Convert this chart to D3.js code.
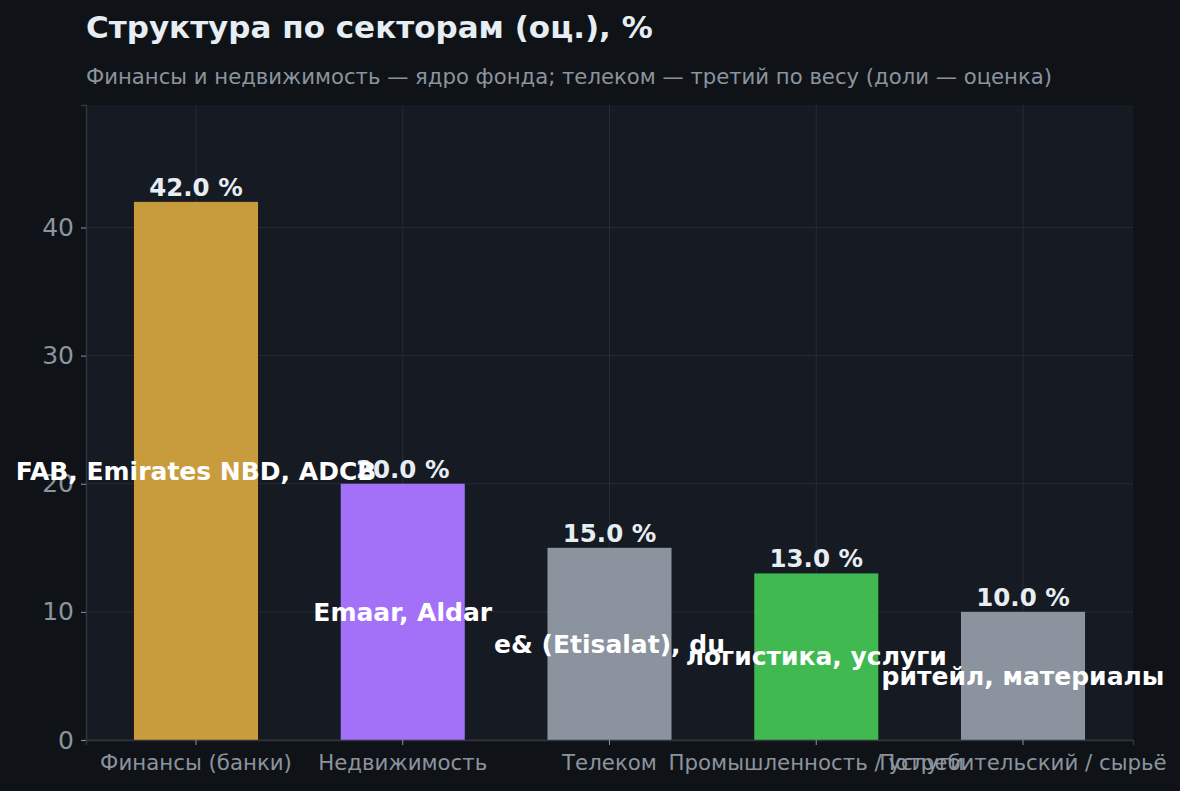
<!DOCTYPE html>
<html><head><meta charset="utf-8">
<script src="https://cdn.jsdelivr.net/npm/d3@7"></script>
<style>
html,body{margin:0;padding:0;background:#0f1317;}
svg{display:block;font-family:"DejaVu Sans",sans-serif;}
</style></head>
<body><svg id="c" width="1180" height="791"></svg>
<script>
const categories = ["Финансы (банки)", "Недвижимость", "Телеком", "Промышленность / услуги", "Потребительский / сырьё"];
const values = [42.0, 20.0, 15.0, 13.0, 10.0];
const innerLabels = ["FAB, Emirates NBD, ADCB", "Emaar, Aldar", "e& (Etisalat), du", "логистика, услуги", "ритейл, материалы"];
const colors = ["#c89b3c", "#a371f7", "#8b949e", "#3fb950", "#8b949e"];
const yTicks = [0, 10, 20, 30, 40];
const title = "Структура по секторам (оц.), %";
const subtitle = "Финансы и недвижимость — ядро фонда; телеком — третий по весу (доли — оценка)";

const svg = d3.select("#c");
const W = 1180, H = 791;
const m = {left: 86, right: 1133, top: 105, bottom: 740};

svg.append("rect").attr("width", W).attr("height", H).attr("fill", "#0f1317");
svg.append("rect").attr("x", m.left).attr("y", m.top).attr("width", m.right - m.left).attr("height", m.bottom - m.top).attr("fill", "#161a22");

const x = d3.scaleBand().domain(categories).range([m.left, m.right]).paddingInner(0.4).paddingOuter(0.232);
const y = d3.scaleLinear().domain([0, d3.max(values) * 1.18]).range([m.bottom, m.top]);

// grid
const g = svg.append("g");
g.selectAll(".gy").data(yTicks).join("line")
  .attr("x1", m.left).attr("x2", m.right).attr("y1", d => y(d)).attr("y2", d => y(d))
  .attr("stroke", "#262b34").attr("stroke-width", 1);
g.selectAll(".gx").data(categories).join("line")
  .attr("x1", d => x(d) + x.bandwidth() / 2).attr("x2", d => x(d) + x.bandwidth() / 2)
  .attr("y1", m.top).attr("y2", m.bottom)
  .attr("stroke", "#262b34").attr("stroke-width", 1);

// bars
svg.selectAll(".bar").data(values).join("rect")
  .attr("x", (d, i) => x(categories[i])).attr("width", x.bandwidth())
  .attr("y", d => y(d)).attr("height", d => y(0) - y(d))
  .attr("fill", (d, i) => colors[i]);

// axes
const yAxis = svg.append("g").attr("transform", `translate(${m.left},0)`)
  .call(d3.axisLeft(y).tickValues(yTicks).tickSize(5).tickPadding(7).tickFormat(d3.format("d")));
yAxis.select(".domain").attr("stroke", "#30363d").attr("stroke-width", 1.5);
yAxis.selectAll(".tick line").attr("stroke", "#8b949e");
yAxis.selectAll(".tick text").attr("fill", "#8b949e").attr("font-size", 25).attr("font-family", "DejaVu Sans");

const xAxis = svg.append("g").attr("transform", `translate(0,${m.bottom})`)
  .call(d3.axisBottom(x).tickSize(5).tickPadding(10));
xAxis.select(".domain").attr("stroke", "#30363d").attr("stroke-width", 1.5);
xAxis.selectAll(".tick line").attr("stroke", "#8b949e");
xAxis.selectAll(".tick text").attr("fill", "#8b949e").attr("font-size", 21.3).attr("font-family", "DejaVu Sans");

// value labels
svg.selectAll(".vl").data(values).join("text")
  .attr("x", (d, i) => x(categories[i]) + x.bandwidth() / 2)
  .attr("y", d => y(d) - 6)
  .attr("text-anchor", "middle").attr("fill", "#e6edf3")
  .attr("font-size", 24.5).attr("font-weight", "bold")
  .text(d => d.toFixed(1) + " %");

// inner labels
svg.selectAll(".il").data(values).join("text")
  .attr("x", (d, i) => x(categories[i]) + x.bandwidth() / 2)
  .attr("y", d => y(d / 2))
  .attr("dy", "0.35em")
  .attr("text-anchor", "middle").attr("fill", "#ffffff")
  .attr("font-size", 25).attr("font-weight", "bold")
  .text((d, i) => innerLabels[i]);

// titles
svg.append("text").attr("x", 86).attr("y", 38).attr("fill", "#e6edf3")
  .attr("font-size", 31).attr("font-weight", "bold").text(title);
svg.append("text").attr("x", 86).attr("y", 84).attr("fill", "#8b949e")
  .attr("font-size", 21.2).text(subtitle);
</script></body></html>
